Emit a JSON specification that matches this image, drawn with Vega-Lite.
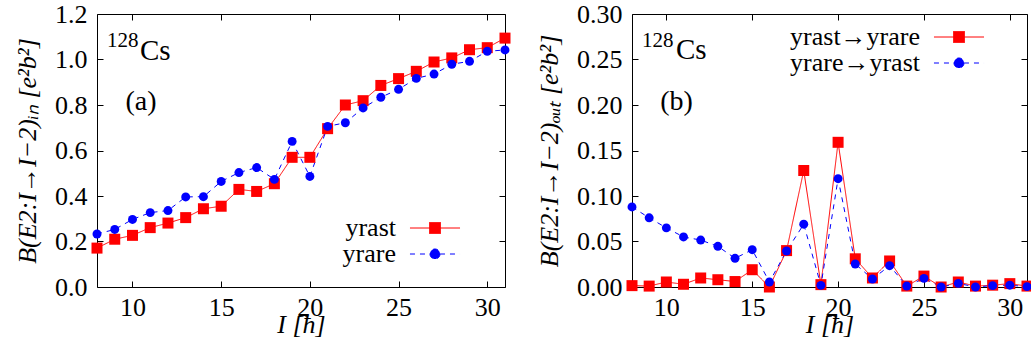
{
  "$schema": "https://vega.github.io/schema/vega-lite/v6.json",
  "padding": {"left": 14, "top": 0, "right": 0, "bottom": 0},
  "background": "white",
  "spacing": 127,
  "bounds": "flush",
  "config": {
    "view": {"stroke": "black", "strokeWidth": 1},
    "axis": {"domain": false, "grid": false, "tickColor": "black", "tickSize": -6, "tickWidth": 1,
      "labelFont": "Liberation Serif", "labelFontSize": 26, "labelColor": "black", "labelFlush": false, "labelOverlap": false,
      "titleFont": "Liberation Serif", "titleFontSize": 26, "titleColor": "black", "titleFontWeight": "normal", "titleFontStyle": "italic"},
    "legend": {"title": null, "padding": 0, "symbolSize": 121, "symbolStrokeWidth": 1, "symbolOpacity": 1,
      "labelFont": "Liberation Serif", "labelFontSize": 26, "labelColor": "black", "labelAlign": "right", "labelOffset": -52, "rowPadding": -5, "labelLimit": 300},
    "text": {"font": "Liberation Serif", "color": "black"}
  },
  "resolve": {"scale": {"color": "independent", "fill": "independent", "stroke": "independent", "shape": "independent", "strokeDash": "independent"},
    "legend": {"color": "independent", "fill": "independent", "stroke": "independent", "shape": "independent", "strokeDash": "independent"}},
  "hconcat": [
    {
      "width": 408, "height": 273,
      "data": {"values": [
        {"I":8,"B":0.171,"s":"yrast"},{"I":9,"B":0.21,"s":"yrast"},{"I":10,"B":0.227,"s":"yrast"},{"I":11,"B":0.261,"s":"yrast"},{"I":12,"B":0.281,"s":"yrast"},{"I":13,"B":0.305,"s":"yrast"},{"I":14,"B":0.344,"s":"yrast"},{"I":15,"B":0.355,"s":"yrast"},{"I":16,"B":0.429,"s":"yrast"},{"I":17,"B":0.42,"s":"yrast"},{"I":18,"B":0.454,"s":"yrast"},{"I":19,"B":0.57,"s":"yrast"},{"I":20,"B":0.57,"s":"yrast"},{"I":21,"B":0.696,"s":"yrast"},{"I":22,"B":0.80,"s":"yrast"},{"I":23,"B":0.819,"s":"yrast"},{"I":24,"B":0.886,"s":"yrast"},{"I":25,"B":0.916,"s":"yrast"},{"I":26,"B":0.948,"s":"yrast"},{"I":27,"B":0.989,"s":"yrast"},{"I":28,"B":1.007,"s":"yrast"},{"I":29,"B":1.043,"s":"yrast"},{"I":30,"B":1.052,"s":"yrast"},{"I":31,"B":1.094,"s":"yrast"},
        {"I":8,"B":0.233,"s":"yrare"},{"I":9,"B":0.253,"s":"yrare"},{"I":10,"B":0.297,"s":"yrare"},{"I":11,"B":0.327,"s":"yrare"},{"I":12,"B":0.336,"s":"yrare"},{"I":13,"B":0.396,"s":"yrare"},{"I":14,"B":0.397,"s":"yrare"},{"I":15,"B":0.464,"s":"yrare"},{"I":16,"B":0.503,"s":"yrare"},{"I":17,"B":0.525,"s":"yrare"},{"I":18,"B":0.473,"s":"yrare"},{"I":19,"B":0.64,"s":"yrare"},{"I":20,"B":0.486,"s":"yrare"},{"I":21,"B":0.706,"s":"yrare"},{"I":22,"B":0.722,"s":"yrare"},{"I":23,"B":0.787,"s":"yrare"},{"I":24,"B":0.834,"s":"yrare"},{"I":25,"B":0.869,"s":"yrare"},{"I":26,"B":0.917,"s":"yrare"},{"I":27,"B":0.936,"s":"yrare"},{"I":28,"B":0.979,"s":"yrare"},{"I":29,"B":0.992,"s":"yrare"},{"I":30,"B":1.036,"s":"yrare"},{"I":31,"B":1.042,"s":"yrare"}
      ]},
      "resolve": {"axis": {"x": "independent", "y": "independent"}},
      "layer": [
        {
          "mark": {"type": "line", "strokeWidth": 1},
          "encoding": {
            "x": {"field": "I", "type": "quantitative", "scale": {"domain": [8, 31], "nice": false, "zero": false},
              "axis": {"orient": "bottom", "values": [10, 15, 20, 25, 30], "format": "d", "labelPadding": 13, "title": "I [ħ]", "titlePadding": -9}},
            "y": {"field": "B", "type": "quantitative", "scale": {"domain": [0, 1.2], "nice": false},
              "axis": {"orient": "left", "values": [0, 0.2, 0.4, 0.6, 0.8, 1.0, 1.2], "format": ".1f", "labelPadding": 16, "title": "B(E2:I→I−2)ᵢₙ [e²b²]", "titlePadding": 14}},
            "color": {"field": "s", "type": "nominal", "scale": {"domain": ["yrast", "yrare"], "range": ["#ff0000", "#0000ff"]}, "legend": {"orient": "none", "legendX": 325, "legendY": 201}},
            "strokeDash": {"field": "s", "type": "nominal", "scale": {"domain": ["yrast", "yrare"], "range": [[1, 0], [5, 5]]}, "legend": {"orient": "none", "legendX": 325, "legendY": 201}}
          }
        },
        {
          "transform": [{"filter": "datum.s == 'yrast'"}],
          "mark": {"type": "point", "filled": true, "opacity": 1, "shape": "square", "size": 121},
          "encoding": {
            "x": {"field": "I", "type": "quantitative", "axis": {"orient": "top", "values": [10, 15, 20, 25, 30], "labels": false, "title": null}},
            "y": {"field": "B", "type": "quantitative", "axis": {"orient": "right", "values": [0, 0.2, 0.4, 0.6, 0.8, 1.0, 1.2], "labels": false, "title": null}},
            "color": {"field": "s", "type": "nominal", "legend": {"orient": "none", "legendX": 325, "legendY": 201}}
          }
        },
        {
          "transform": [{"filter": "datum.s == 'yrare'"}],
          "mark": {"type": "point", "filled": true, "opacity": 1, "shape": "circle", "size": 80},
          "encoding": {
            "x": {"field": "I", "type": "quantitative", "axis": null},
            "y": {"field": "B", "type": "quantitative", "axis": null},
            "color": {"field": "s", "type": "nominal", "legend": {"orient": "none", "legendX": 325, "legendY": 201}}
          }
        },
        {
          "transform": [{"filter": "datum.I > 100"}],
          "mark": {"type": "point", "filled": true, "opacity": 1, "strokeWidth": 1},
          "encoding": {
            "x": {"field": "I", "type": "quantitative", "axis": null},
            "y": {"field": "B", "type": "quantitative", "axis": null},
            "fill": {"field": "s", "type": "nominal", "scale": {"domain": ["yrast", "yrare"], "range": ["#ff0000", "#0000ff"]}, "legend": {"orient": "none", "legendX": 325, "legendY": 201}},
            "stroke": {"field": "s", "type": "nominal", "scale": {"domain": ["yrast", "yrare"], "range": ["#ff0000", "#0000ff"]}, "legend": {"orient": "none", "legendX": 325, "legendY": 201}},
            "shape": {"field": "s", "type": "nominal", "scale": {"domain": ["yrast", "yrare"], "range": ["M-4.55,0H4.55M-1,-1H1V1H-1Z", "M-4.55,0H4.55M-0.91,0A0.91,0.91 0 1,0 0.91,0A0.91,0.91 0 1,0 -0.91,0"]}, "legend": {"orient": "none", "legendX": 325, "legendY": 201}},
            "strokeDash": {"field": "s", "type": "nominal", "legend": {"orient": "none", "legendX": 325, "legendY": 201}}
          }
        },
        {
          "data": {"values": [{}]},
          "mark": {"type": "text", "text": "128", "fontSize": 21, "align": "left", "baseline": "alphabetic"},
          "encoding": {"x": {"datum": 8.56, "type": "quantitative", "axis": null}, "y": {"datum": 1.055, "type": "quantitative", "axis": null}}
        },
        {
          "data": {"values": [{}]},
          "mark": {"type": "text", "text": "Cs", "fontSize": 29, "align": "left", "baseline": "alphabetic"},
          "encoding": {"x": {"datum": 10.42, "type": "quantitative", "axis": null}, "y": {"datum": 1.0, "type": "quantitative", "axis": null}}
        },
        {
          "data": {"values": [{}]},
          "mark": {"type": "text", "text": "(a)", "fontSize": 28, "align": "center", "baseline": "alphabetic"},
          "encoding": {"x": {"datum": 10.48, "type": "quantitative", "axis": null}, "y": {"datum": 0.778, "type": "quantitative", "axis": null}}
        }
      ]
    },
    {
      "width": 395, "height": 273,
      "data": {"values": [
        {"I":8,"B":0.0015,"s":"yrast→yrare"},{"I":9,"B":0.001,"s":"yrast→yrare"},{"I":10,"B":0.0055,"s":"yrast→yrare"},{"I":11,"B":0.003,"s":"yrast→yrare"},{"I":12,"B":0.0099,"s":"yrast→yrare"},{"I":13,"B":0.008,"s":"yrast→yrare"},{"I":14,"B":0.006,"s":"yrast→yrare"},{"I":15,"B":0.019,"s":"yrast→yrare"},{"I":16,"B":0.0,"s":"yrast→yrare"},{"I":17,"B":0.040,"s":"yrast→yrare"},{"I":18,"B":0.128,"s":"yrast→yrare"},{"I":19,"B":0.0026,"s":"yrast→yrare"},{"I":20,"B":0.159,"s":"yrast→yrare"},{"I":21,"B":0.031,"s":"yrast→yrare"},{"I":22,"B":0.0099,"s":"yrast→yrare"},{"I":23,"B":0.0286,"s":"yrast→yrare"},{"I":24,"B":0.001,"s":"yrast→yrare"},{"I":25,"B":0.012,"s":"yrast→yrare"},{"I":26,"B":0.0,"s":"yrast→yrare"},{"I":27,"B":0.0055,"s":"yrast→yrare"},{"I":28,"B":0.001,"s":"yrast→yrare"},{"I":29,"B":0.002,"s":"yrast→yrare"},{"I":30,"B":0.0037,"s":"yrast→yrare"},{"I":31,"B":0.001,"s":"yrast→yrare"},
        {"I":8,"B":0.088,"s":"yrare→yrast"},{"I":9,"B":0.076,"s":"yrare→yrast"},{"I":10,"B":0.065,"s":"yrare→yrast"},{"I":11,"B":0.055,"s":"yrare→yrast"},{"I":12,"B":0.0516,"s":"yrare→yrast"},{"I":13,"B":0.0447,"s":"yrare→yrast"},{"I":14,"B":0.0315,"s":"yrare→yrast"},{"I":15,"B":0.041,"s":"yrare→yrast"},{"I":16,"B":0.0055,"s":"yrare→yrast"},{"I":17,"B":0.0396,"s":"yrare→yrast"},{"I":18,"B":0.069,"s":"yrare→yrast"},{"I":19,"B":0.0018,"s":"yrare→yrast"},{"I":20,"B":0.119,"s":"yrare→yrast"},{"I":21,"B":0.0253,"s":"yrare→yrast"},{"I":22,"B":0.0088,"s":"yrare→yrast"},{"I":23,"B":0.0234,"s":"yrare→yrast"},{"I":24,"B":0.001,"s":"yrare→yrast"},{"I":25,"B":0.0095,"s":"yrare→yrast"},{"I":26,"B":0.0,"s":"yrare→yrast"},{"I":27,"B":0.004,"s":"yrare→yrast"},{"I":28,"B":0.0,"s":"yrare→yrast"},{"I":29,"B":0.0015,"s":"yrare→yrast"},{"I":30,"B":0.002,"s":"yrare→yrast"},{"I":31,"B":0.0004,"s":"yrare→yrast"}
      ]},
      "resolve": {"axis": {"x": "independent", "y": "independent"}},
      "layer": [
        {
          "mark": {"type": "line", "strokeWidth": 1},
          "encoding": {
            "x": {"field": "I", "type": "quantitative", "scale": {"domain": [8, 31], "nice": false, "zero": false},
              "axis": {"orient": "bottom", "values": [10, 15, 20, 25, 30], "format": "d", "labelPadding": 13, "title": "I [ħ]", "titlePadding": -9}},
            "y": {"field": "B", "type": "quantitative", "scale": {"domain": [0, 0.3], "nice": false},
              "axis": {"orient": "left", "values": [0, 0.05, 0.1, 0.15, 0.2, 0.25, 0.3], "format": ".2f", "labelPadding": 16, "title": "B(E2:I→I−2)ₒᵤₜ [e²b²]", "titlePadding": 14}},
            "color": {"field": "s", "type": "nominal", "scale": {"domain": ["yrast→yrare", "yrare→yrast"], "range": ["#ff0000", "#0000ff"]}, "legend": {"orient": "none", "legendX": 314, "legendY": 10}},
            "strokeDash": {"field": "s", "type": "nominal", "scale": {"domain": ["yrast→yrare", "yrare→yrast"], "range": [[1, 0], [5, 5]]}, "legend": {"orient": "none", "legendX": 314, "legendY": 10}}
          }
        },
        {
          "transform": [{"filter": "datum.s == 'yrast→yrare'"}],
          "mark": {"type": "point", "filled": true, "opacity": 1, "shape": "square", "size": 121},
          "encoding": {
            "x": {"field": "I", "type": "quantitative", "axis": {"orient": "top", "values": [10, 15, 20, 25, 30], "labels": false, "title": null}},
            "y": {"field": "B", "type": "quantitative", "axis": {"orient": "right", "values": [0, 0.05, 0.1, 0.15, 0.2, 0.25, 0.3], "labels": false, "title": null}},
            "color": {"field": "s", "type": "nominal", "legend": {"orient": "none", "legendX": 314, "legendY": 10}}
          }
        },
        {
          "transform": [{"filter": "datum.s == 'yrare→yrast'"}],
          "mark": {"type": "point", "filled": true, "opacity": 1, "shape": "circle", "size": 80},
          "encoding": {
            "x": {"field": "I", "type": "quantitative", "axis": null},
            "y": {"field": "B", "type": "quantitative", "axis": null},
            "color": {"field": "s", "type": "nominal", "legend": {"orient": "none", "legendX": 314, "legendY": 10}}
          }
        },
        {
          "transform": [{"filter": "datum.I > 100"}],
          "mark": {"type": "point", "filled": true, "opacity": 1, "strokeWidth": 1},
          "encoding": {
            "x": {"field": "I", "type": "quantitative", "axis": null},
            "y": {"field": "B", "type": "quantitative", "axis": null},
            "fill": {"field": "s", "type": "nominal", "scale": {"domain": ["yrast→yrare", "yrare→yrast"], "range": ["#ff0000", "#0000ff"]}, "legend": {"orient": "none", "legendX": 314, "legendY": 10}},
            "stroke": {"field": "s", "type": "nominal", "scale": {"domain": ["yrast→yrare", "yrare→yrast"], "range": ["#ff0000", "#0000ff"]}, "legend": {"orient": "none", "legendX": 314, "legendY": 10}},
            "shape": {"field": "s", "type": "nominal", "scale": {"domain": ["yrast→yrare", "yrare→yrast"], "range": ["M-4.55,0H4.55M-1,-1H1V1H-1Z", "M-4.55,0H4.55M-0.91,0A0.91,0.91 0 1,0 0.91,0A0.91,0.91 0 1,0 -0.91,0"]}, "legend": {"orient": "none", "legendX": 314, "legendY": 10}},
            "strokeDash": {"field": "s", "type": "nominal", "legend": {"orient": "none", "legendX": 314, "legendY": 10}}
          }
        },
        {
          "data": {"values": [{}]},
          "mark": {"type": "text", "text": "128", "fontSize": 21, "align": "left", "baseline": "alphabetic"},
          "encoding": {"x": {"datum": 8.58, "type": "quantitative", "axis": null}, "y": {"datum": 0.264, "type": "quantitative", "axis": null}}
        },
        {
          "data": {"values": [{}]},
          "mark": {"type": "text", "text": "Cs", "fontSize": 29, "align": "left", "baseline": "alphabetic"},
          "encoding": {"x": {"datum": 10.56, "type": "quantitative", "axis": null}, "y": {"datum": 0.2505, "type": "quantitative", "axis": null}}
        },
        {
          "data": {"values": [{}]},
          "mark": {"type": "text", "text": "(b)", "fontSize": 28, "align": "center", "baseline": "alphabetic"},
          "encoding": {"x": {"datum": 10.59, "type": "quantitative", "axis": null}, "y": {"datum": 0.1945, "type": "quantitative", "axis": null}}
        }
      ]
    }
  ]
}
